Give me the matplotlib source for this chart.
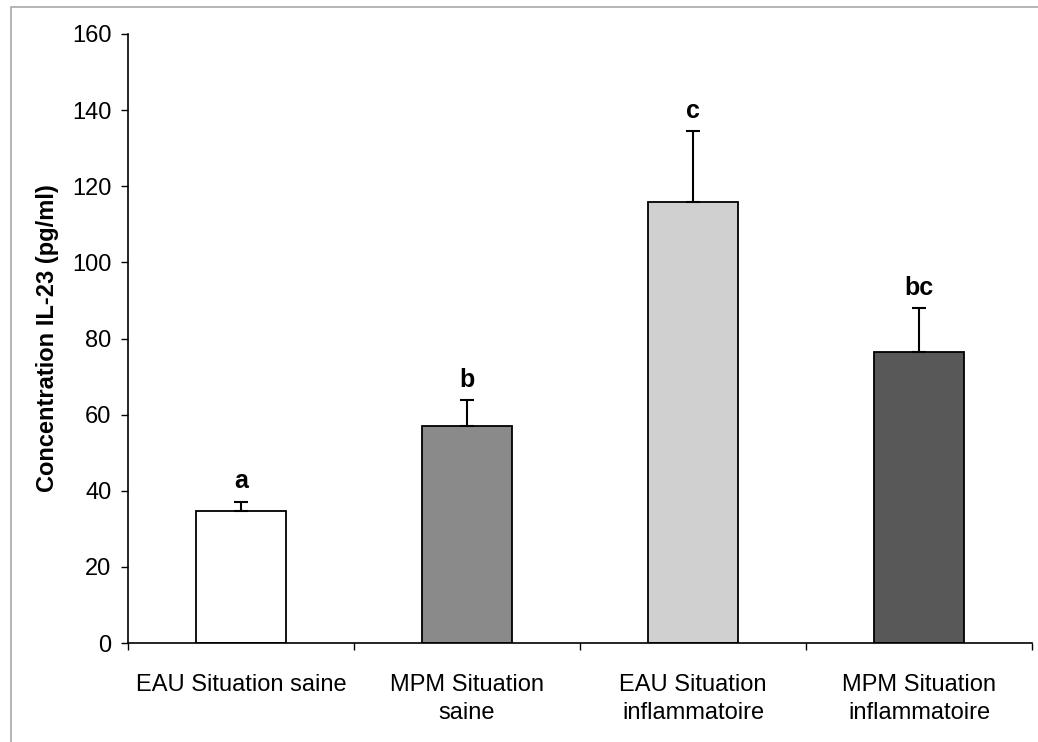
import matplotlib
matplotlib.use("Agg")
import matplotlib.pyplot as plt
from matplotlib.patches import Rectangle
import numpy as np

plt.rcParams["font.family"] = ["Liberation Sans", "DejaVu Sans"]

# ---- data ------------------------------------------------------------------
categories = ["EAU Situation saine", "MPM Situation\nsaine",
              "EAU Situation\ninflammatoire", "MPM Situation\ninflammatoire"]
means = [34.7, 57.0, 115.8, 76.5]
errors = [2.4, 6.8, 18.7, 11.4]
letters = ["a", "b", "c", "bc"]
colors = ["#ffffff", "#8a8a8a", "#d0d0d0", "#585858"]

fig = plt.figure(figsize=(10.38, 7.42), dpi=100)
ax = fig.add_axes([0.1233, 0.1334, 0.8709, 0.8208])

x = np.arange(len(categories))
ax.bar(x, means, width=0.4, color=colors, edgecolor="black", linewidth=1.3, zorder=2)
ax.errorbar(x, means, yerr=[np.zeros(len(means)), errors], fmt="none",
            ecolor="black", elinewidth=1.5, capsize=5, capthick=1.5, zorder=3)
for xi, m, e, lab in zip(x, means, errors, letters):
    ax.annotate(lab, (xi, m + e), xytext=(0, 6), textcoords="offset points",
                ha="center", va="bottom", fontsize=18, fontweight="bold")

ax.set_xlim(-0.5, len(categories) - 0.5)
ax.set_ylim(0, 160)
ax.set_yticks(np.arange(0, 161, 20))
ax.tick_params(axis="y", direction="out", length=5, width=1, labelsize=17, pad=7)

# category labels centred, ticks at the category boundaries
ax.set_xticks(x)
ax.set_xticklabels(categories, fontsize=17, linespacing=1.35)
ax.tick_params(axis="x", which="major", length=0, pad=22)
ax.set_xticks(np.arange(-0.5, len(categories)), minor=True)
ax.tick_params(axis="x", which="minor", direction="out", length=5, width=1)

ax.set_ylabel("Concentration IL-23 (pg/ml)", fontsize=17, fontweight="bold", labelpad=9)

ax.spines["top"].set_visible(False)
ax.spines["right"].set_visible(False)
ax.spines["left"].set_linewidth(1.2)
ax.spines["bottom"].set_linewidth(1.2)

# thin frame around the picture (right and bottom edges run off the page)
fig.patches.append(Rectangle((0.011, -0.1), 1.2, 1.0906, transform=fig.transFigure,
                             fill=False, edgecolor="#a8a8a8", linewidth=1.2))

fig.savefig("out.png", dpi=100)
